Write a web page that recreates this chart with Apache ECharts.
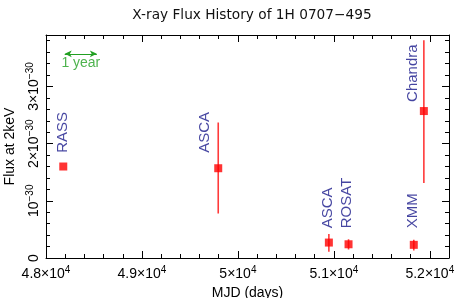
<!DOCTYPE html>
<html>
<head>
<meta charset="utf-8">
<script src="https://cdn.jsdelivr.net/npm/echarts@6/dist/echarts.min.js"></script>
<style>html,body{margin:0;padding:0;background:#fff}#c{width:458px;height:298px}</style>
</head>
<body>
<div id="c"></div>
<script>
// ---- data (flux in units of 1e-30) ----
var instruments = ['RASS', 'ASCA', 'ASCA', 'ROSAT', 'XMM', 'Chandra'];
var mjd        = [48180, 49795, 50948, 51153, 51833, 51938];
var flux       = [1.60, 1.57, 0.27, 0.24, 0.23, 2.57];
var fluxLow    = [null, 0.78, 0.11, 0.15, 0.13, 1.31];
var fluxHigh   = [null, 2.37, 0.42, 0.33, 0.32, 3.81];
// annotation anchors (data units): bottom end of each rotated label
var labelMjd   = [48173, 49656, 50938, 51132, 51823, 51823];
var labelFlux  = [1.84, 1.84, 0.52, 0.52, 0.52, 2.73];
// "1 year" scale arrow
var yearText = '1 year';
var yearArrowMjd = [48195, 48530];
var yearArrowFlux = 3.57;
var yearTextMjd = 48363;
var yearTextFlux = 3.40;
// tick labels
var xTickValues = [48000, 49000, 50000, 51000, 52000];
var xTickLabels = ['4.8×10^4', '4.9×10^4', '5×10^4', '5.1×10^4', '5.2×10^4'];
var yTickValues = [0, 1, 2, 3];
var yTickLabels = ['0', '10^−30', '2×10^−30', '3×10^−30'];

var titleText = 'X-ray Flux History of 1H 0707−495';
var xName = 'MJD (days)';
var yName = 'Flux at 2keV';

var FONT = 'Liberation Sans';
var XMIN = 48000, XMAX = 52200, YMIN = 0, YMAX = 3.9;

function richLabel(s) {
  if (s.indexOf('^') < 0) return '{b|' + s + '}';
  var p = s.split('^');
  return '{b|' + p[0] + '}{s|' + p[1] + '}';
}
function makeRich() {
  return {
    b: {fontSize: 14, fontFamily: FONT, color: '#000', lineHeight: 18, verticalAlign: 'middle'},
    s: {fontSize: 10, fontFamily: FONT, color: '#000', lineHeight: 8, verticalAlign: 'top'}
  };
}
function xFmt(v) {
  for (var i = 0; i < xTickValues.length; i++) if (Math.abs(v - xTickValues[i]) < 1e-6) return richLabel(xTickLabels[i]);
  return '';
}
function yFmt(v) {
  for (var i = 0; i < yTickValues.length; i++) if (Math.abs(v - yTickValues[i]) < 1e-6) return richLabel(yTickLabels[i]);
  return '';
}

function xAx(pos, major, show) {
  var a = {
    type: 'value', position: pos, min: XMIN, max: XMAX, interval: major ? 1000 : 200,
    axisLine: {show: major, lineStyle: {color: '#000', width: 1}, onZero: false},
    axisTick: {show: true, inside: true, length: major ? 7 : 4, lineStyle: {color: '#000', width: 1}},
    axisLabel: {show: false},
    splitLine: {show: false}
  };
  if (show) {
    a.axisLabel = {show: true, formatter: xFmt, rich: makeRich(), margin: 7, showMaxLabel: false};
    a.name = xName; a.nameLocation = 'middle'; a.nameGap = 22;
    a.nameTextStyle = {fontSize: 14, fontFamily: FONT, color: '#000'};
  }
  return a;
}
function yAx(pos, major, show) {
  var a = {
    type: 'value', position: pos, min: YMIN, max: YMAX, interval: major ? 1 : 0.2,
    axisLine: {show: major, lineStyle: {color: '#000', width: 1}, onZero: false},
    axisTick: {show: true, inside: true, length: major ? 7 : 4, lineStyle: {color: '#000', width: 1}},
    axisLabel: {show: false},
    splitLine: {show: false}
  };
  if (show) {
    a.axisLabel = {show: true, formatter: yFmt, rich: makeRich(), margin: 3, rotate: 90, showMaxLabel: false};
    a.name = yName; a.nameLocation = 'middle'; a.nameGap = 29; a.nameRotate = 90;
    a.nameTextStyle = {fontSize: 14, fontFamily: FONT, color: '#000'};
  }
  return a;
}

var series = [];
// error bars: one short line per measurement
for (var i = 0; i < mjd.length; i++) {
  if (fluxLow[i] === null) continue;
  series.push({
    type: 'line', data: [[mjd[i], fluxLow[i]], [mjd[i], fluxHigh[i]]],
    showSymbol: false, symbol: 'none', silent: true,
    lineStyle: {color: '#ff3a3a', width: 1.6}, z: 2
  });
}
var pts = [], labs = [];
for (var j = 0; j < mjd.length; j++) {
  pts.push([mjd[j], flux[j]]);
  labs.push({name: instruments[j], value: [labelMjd[j], labelFlux[j]]});
}
series.push({type: 'scatter', data: pts, symbol: 'rect', symbolSize: 8, itemStyle: {color: '#ff0000'}, z: 3});
series.push({
  type: 'scatter', data: labs, symbolSize: 0, z: 4, silent: true,
  label: {show: true, formatter: '{b}', position: 'inside', rotate: 90, align: 'left', verticalAlign: 'middle',
    fontSize: 15, fontFamily: FONT, color: '#16168a'}
});
series.push({
  type: 'line', data: [], z: 4,
  markLine: {
    silent: true, symbol: ['arrow', 'arrow'], symbolSize: [5, 7], animation: false,
    lineStyle: {color: '#22a022', width: 1, type: 'solid'}, label: {show: false},
    data: [[{coord: [yearArrowMjd[0], yearArrowFlux]}, {coord: [yearArrowMjd[1], yearArrowFlux]}]]
  }
});
series.push({
  type: 'scatter', data: [{name: yearText, value: [yearTextMjd, yearTextFlux]}], symbolSize: 0, z: 4, silent: true,
  label: {show: true, formatter: '{b}', position: 'inside', fontSize: 14, fontFamily: FONT, color: '#22a022'}
});

var chart = echarts.init(document.getElementById('c'));
chart.setOption({
  animation: false,
  title: {
    text: titleText, left: 247, top: 3, textAlign: 'center',
    textStyle: {fontSize: 13.7, fontFamily: 'DejaVu Sans', fontWeight: 'normal', color: '#111'}
  },
  grid: {left: 46, right: 9, top: 35, bottom: 40, outerBoundsMode: 'none'},
  xAxis: [xAx('bottom', true, true), xAx('top', true, false), xAx('bottom', false, false), xAx('top', false, false)],
  yAxis: [yAx('left', true, true), yAx('right', true, false), yAx('left', false, false), yAx('right', false, false)],
  series: series
});
</script>
</body>
</html>
